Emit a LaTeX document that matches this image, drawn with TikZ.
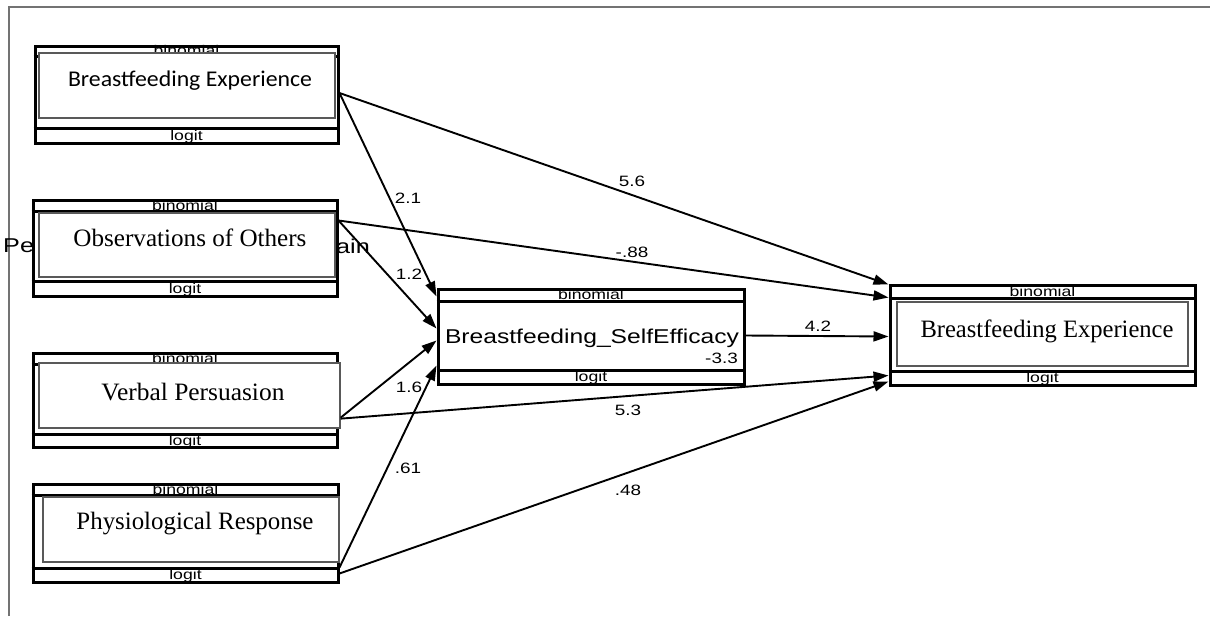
\documentclass[tikz,border=0pt]{standalone}
\usepackage{fontspec}
\usepackage{graphicx}
\setmainfont{Liberation Serif}
\setsansfont{Liberation Sans}
\newfontfamily\calib{Carlito}
\usetikzlibrary{arrows.meta}

% horizontally widened text, as in the SEM builder export
\newcommand\wide[1]{\scalebox{1.26}[1]{#1}}
% text forced to a given width, height kept
\newcommand\fitw[2]{\resizebox{#1}{\height}{#2}}

\tikzset{
  obox/.style={draw=black, line width=3pt, fill=white, inner sep=0pt},
  ibox/.style={draw=black!65, line width=1.3pt, fill=white, inner sep=0pt},
  band/.style={line width=2.6pt},
  tag/.style={font=\sffamily\fontsize{14}{14}\selectfont, inner sep=0pt},
  coef/.style={font=\sffamily\fontsize{15}{15}\selectfont, inner sep=0pt},
  serifname/.style={font=\fontsize{25}{26}\selectfont, inner sep=0pt},
  sansname/.style={font=\sffamily\fontsize{20}{20}\selectfont, inner sep=0pt},
  arr/.style={line width=1.9pt, -{Triangle[length=15pt,width=10pt]}},
  frame/.style={draw=black!55, line width=1.4pt},
}

\begin{document}
\begin{tikzpicture}[x=1pt,y=-1pt]
\useasboundingbox (0,0) rectangle (1210,616);
\draw[frame] (9,616) -- (9,7) -- (1210,7);

% label of a variable lying under the observed box
\node[sansname, anchor=west] (hidA) at (3,246) {\wide{Pe}};
\node[sansname, anchor=west] (hidB) at (336,246) {\wide{ain}};

% ---- Breastfeeding Experience (exogenous) ----
\node[obox, minimum width=303pt, minimum height=97pt] (be) at (186.5,94.5) {};
\draw[band] ([yshift=-12pt]be.north west) -- ([yshift=-12pt]be.north east);
\draw[band] ([yshift=16pt]be.south west) -- ([yshift=16pt]be.south east);
\node[tag] (be-fam) at ([yshift=-6pt]be.north) {\wide{binomial}};
\node[tag] (be-lnk) at ([yshift=8pt]be.south) {\wide{logit}};
\node[ibox, minimum width=296pt, minimum height=65pt] (bein) at (187,85.5) {};
\node[inner sep=0pt] (be-name) at (190,80.5) {\fitw{244pt}{\calib\fontsize{22.5}{23}\selectfont Breastfeeding Experience}};

% ---- Observations of Others ----
\node[obox, minimum width=304pt, minimum height=96pt] (oo) at (185,248) {};
\draw[band] ([yshift=-13pt]oo.north west) -- ([yshift=-13pt]oo.north east);
\draw[band] ([yshift=16pt]oo.south west) -- ([yshift=16pt]oo.south east);
\node[tag] (oo-fam) at ([yshift=-7pt]oo.north) {\wide{binomial}};
\node[tag] (oo-lnk) at ([yshift=8pt]oo.south) {\wide{logit}};
\node[ibox, minimum width=296pt, minimum height=64pt] (ooin) at (187,245) {};
\node[serifname] (oo-name) at (190,238) {\fitw{233pt}{Observations of Others}};

% ---- Verbal Persuasion ----
\node[obox, minimum width=304pt, minimum height=94pt] (vp) at (185,400) {};
\draw[band] ([yshift=-13pt]vp.north west) -- ([yshift=-13pt]vp.north east);
\draw[band] ([yshift=14pt]vp.south west) -- ([yshift=14pt]vp.south east);
\node[tag] (vp-fam) at ([yshift=-7pt]vp.north) {\wide{binomial}};
\node[tag] (vp-lnk) at ([yshift=7pt]vp.south) {\wide{logit}};
\node[ibox, minimum width=301pt, minimum height=65pt] (vpin) at (189.5,395.5) {};
\node[serifname] (vp-name) at (193,392) {\fitw{183pt}{Verbal Persuasion}};

% ---- Physiological Response ----
\node[obox, minimum width=305pt, minimum height=98pt] (pr) at (185.5,533) {};
\draw[band] ([yshift=-13pt]pr.north west) -- ([yshift=-13pt]pr.north east);
\draw[band] ([yshift=15pt]pr.south west) -- ([yshift=15pt]pr.south east);
\node[tag] (pr-fam) at ([yshift=-7pt]pr.north) {\wide{binomial}};
\node[tag] (pr-lnk) at ([yshift=7.5pt]pr.south) {\wide{logit}};
\node[ibox, minimum width=296pt, minimum height=65pt] (prin) at (191,529.5) {};
\node[serifname] (pr-name) at (195,524) {\fitw{237pt}{Physiological Response}};

% ---- Breastfeeding_SelfEfficacy (mediator) ----
\node[obox, minimum width=306pt, minimum height=95pt] (se) at (591,336.5) {};
\draw[band] ([yshift=-14pt]se.north west) -- ([yshift=-14pt]se.north east);
\draw[band] ([yshift=15pt]se.south west) -- ([yshift=15pt]se.south east);
\node[tag] (se-fam) at ([yshift=-7pt]se.north) {\wide{binomial}};
\node[tag] (se-lnk) at ([yshift=7.5pt]se.south) {\wide{logit}};
\node[sansname] (se-name) at (592,338) {\fitw{294pt}{Breastfeeding\_SelfEfficacy}};
\node[coef, anchor=east] (se-cons) at (738,358) {\wide{-3.3}};

% ---- Breastfeeding Experience (outcome) ----
\node[obox, minimum width=305pt, minimum height=100pt] (rb) at (1042.5,335) {};
\draw[band] ([yshift=-15pt]rb.north west) -- ([yshift=-15pt]rb.north east);
\draw[band] ([yshift=15pt]rb.south west) -- ([yshift=15pt]rb.south east);
\node[tag] (rb-fam) at ([yshift=-7.5pt]rb.north) {\wide{binomial}};
\node[tag] (rb-lnk) at ([yshift=7.5pt]rb.south) {\wide{logit}};
\node[ibox, minimum width=291pt, minimum height=64pt] (rbin) at (1042.5,334) {};
\node[serifname] (rb-name) at (1047,331) {\fitw{253pt}{Breastfeeding Experience}};

% ---- paths ----
\draw[arr] ([yshift=1.5pt]be.east) -- ([yshift=-9pt]se.north west);
\draw[arr] ([yshift=1.5pt]be.east) -- ([yshift=-1pt]rb.north west);
\draw[arr] ([yshift=-22pt]oo.north east) -- ([yshift=-14pt]rb.north west);
\draw[arr] ([yshift=-22pt]oo.north east) -- ([yshift=-41pt]se.north west);
\draw[arr] ([yshift=11pt]vpin.south east) -- ([yshift=-53pt]se.north west);
\draw[arr] ([yshift=10pt]vpin.south east) -- ([yshift=-92pt]rb.north west);
\draw[arr] ([yshift=16pt]pr.south east) -- ([yshift=-78pt]se.north west);
\draw[arr] ([yshift=10pt]pr.south east) -- ([yshift=-98pt]rb.north west);
\draw[arr] ([yshift=-48pt]se.north east) -- ([yshift=-53pt]rb.north west);

% ---- coefficients ----
\node[coef] (c21) at (408,198) {\wide{2.1}};
\node[coef] (c56) at (632,181) {\wide{5.6}};
\node[coef] (c88) at (632,252) {\wide{-.88}};
\node[coef] (c12) at (409,274) {\wide{1.2}};
\node[coef] (c16) at (409,387) {\wide{1.6}};
\node[coef] (c61) at (408,468) {\wide{.61}};
\node[coef] (c42) at (818,326) {\wide{4.2}};
\node[coef] (c53) at (628,410) {\wide{5.3}};
\node[coef] (c48) at (628,490) {\wide{.48}};
\end{tikzpicture}
\end{document}
